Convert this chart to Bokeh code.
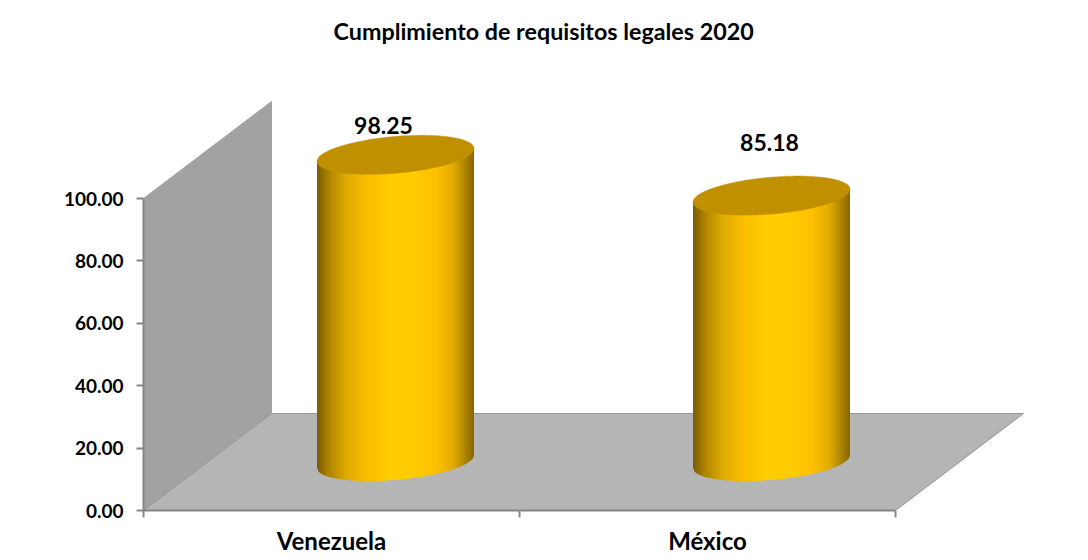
import numpy as np
from bokeh.plotting import figure
from bokeh.embed import file_html
from bokeh.resources import INLINE
from bokeh.models import FixedTicker, Range1d, NumeralTickFormatter
from bokeh.core.properties import value

title_text = "Cumplimiento de requisitos legales 2020"
categories = ["Venezuela", "México"]
values = [98.25, 85.18]
y_ticks = [0, 20, 40, 60, 80, 100]
label_lift = [9.5, 17.1]
label_shift = [-12, -2]

FONT = "Lato"
PX_X = 376.0   # px per category
PX_Y = 3.12    # px per value unit
DEPTH_X = 128 / PX_X
DEPTH_Y = 97 / PX_Y
FRAME_W, FRAME_H = 897, 451

p = figure(frame_width=FRAME_W, frame_height=FRAME_H, output_backend="svg", toolbar_location=None,
           x_range=Range1d(0, FRAME_W / PX_X), y_range=Range1d(0, FRAME_H / PX_Y),
           min_border_left=143, min_border_right=30,
           min_border_top=40, min_border_bottom=40)
p.outline_line_color = None
p.grid.visible = False
p.background_fill_color = "white"

p.title.text = title_text
p.title.align = "left"
p.title.offset = 190
p.title.standoff = 29
p.title.text_font = FONT
p.title.text_font_style = "bold"
p.title.text_font_size = "23.3px"
p.title.text_color = "black"

# walls
wall_x = [0, 0, DEPTH_X, DEPTH_X]
wall_y = [0, 100, 100 + DEPTH_Y, DEPTH_Y]
p.patch(wall_x, wall_y, fill_color="#a2a2a2", line_color="#a2a2a2", line_width=1)
n_cat = len(categories)
floor_x = [0, n_cat, n_cat + DEPTH_X, DEPTH_X]
floor_y = [0, 0, DEPTH_Y, DEPTH_Y]
p.patch(floor_x, floor_y, fill_color="#b5b5b5", line_color="#969696", line_width=1)

# cylinders
STOPS = [0.0, 0.08, 0.18, 0.32, 0.46, 0.62, 0.76, 0.87, 0.95, 1.0]
COLS = np.array([[0x7a, 0x5c, 0x00], [0xb0, 0x85, 0x00], [0xdc, 0xa8, 0x00],
                 [0xfa, 0xbc, 0x00], [0xff, 0xcc, 0x00], [0xff, 0xcc, 0x00],
                 [0xff, 0xc0, 0x00], [0xe0, 0xaa, 0x00], [0xa8, 0x80, 0x00],
                 [0x86, 0x65, 0x00]], float)
HALF_W = 78.5 / PX_X
TILT = 6.5 / PX_Y
MINOR = 18.4 / PX_Y
N = 157
for i, v in enumerate(values):
    cx = i + 0.5 + DEPTH_X / 2
    cy = DEPTH_Y / 2 + 0.2
    us = np.linspace(-1, 1, N + 1)
    xs, ys, cols = [], [], []
    for k in range(N):
        u0, u1 = us[k], us[k + 1]
        u1x = min(1.0, u1 + 2 / N)
        frac = (k + 0.5) / N
        col = [int(round(np.interp(frac, STOPS, COLS[:, c]))) for c in range(3)]
        b0 = cy + TILT * u0 - MINOR * np.sqrt(max(0, 1 - u0 ** 2))
        b1 = cy + TILT * u1x - MINOR * np.sqrt(max(0, 1 - u1x ** 2))
        t0 = cy + v + TILT * u0
        t1 = cy + v + TILT * u1x
        xs.append([cx + HALF_W * u0, cx + HALF_W * u1x, cx + HALF_W * u1x, cx + HALF_W * u0])
        ys.append([b0, b1, t1, t0])
        cols.append("#%02x%02x%02x" % tuple(col))
    p.patches(xs, ys, fill_color=cols, line_color=None)
    t = np.linspace(0, 2 * np.pi, 121)
    ex = cx + HALF_W * np.cos(t)
    ey = cy + v + TILT * np.cos(t) + MINOR * np.sin(t)
    p.patch(ex, ey, fill_color="#c09000", line_color="#c09000", line_width=0.5)

# data labels
lx = [i + 0.5 + DEPTH_X / 2 + label_shift[i] / PX_X for i in range(n_cat)]
ly = [cy_v + DEPTH_Y / 2 + lift for cy_v, lift in zip(values, label_lift)]
p.text(lx, ly, text=["%.2f" % v for v in values], text_align="center", text_baseline="middle",
       text_font=value(FONT), text_font_style="bold", text_font_size="23px", text_color="black")

# axes
ya = p.yaxis[0]
ya.ticker = FixedTicker(ticks=y_ticks)
ya.bounds = (0, 100)
ya.formatter = NumeralTickFormatter(format="0.00")
ya.axis_line_color = "#868686"
ya.axis_line_width = 2
ya.major_tick_line_color = "#868686"
ya.major_tick_line_width = 2
ya.major_tick_out = 7
ya.major_tick_in = 0
ya.minor_tick_line_color = None
ya.major_label_text_font = FONT
ya.major_label_text_font_style = "bold"
ya.major_label_text_font_size = "19px"
ya.major_label_text_color = "black"
ya.major_label_standoff = 13

xa = p.xaxis[0]
xa.ticker = FixedTicker(ticks=[i + 0.5 for i in range(n_cat)], minor_ticks=list(range(n_cat + 1)))
xa.bounds = (0, n_cat)
xa.major_label_overrides = {i + 0.5: c for i, c in enumerate(categories)}
xa.axis_line_color = "#868686"
xa.axis_line_width = 2
xa.major_tick_line_color = None
xa.minor_tick_line_color = "#868686"
xa.minor_tick_line_width = 2
xa.minor_tick_out = 7
xa.minor_tick_in = 0
xa.major_label_text_font = FONT
xa.major_label_text_font_style = "bold"
xa.major_label_text_font_size = "24px"
xa.major_label_text_color = "black"
xa.major_label_standoff = 8

open("out.html", "w").write(file_html(p, INLINE))
